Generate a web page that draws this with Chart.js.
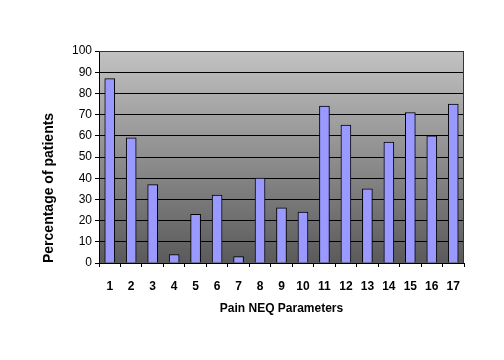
<!DOCTYPE html>
<html lang="en">
<head>
  <meta charset="UTF-8" />
  <title>Pain NEQ Parameters</title>
  <script src="https://cdn.jsdelivr.net/npm/chart.js"></script>
  <style>
    html, body { margin: 0; padding: 0; background: #fff; }
    canvas { display: block; }
  </style>
</head>
<body>
<canvas id="painChart" width="504" height="360"></canvas>
<script>
  // data
  const params = ["1", "2", "3", "4", "5", "6", "7", "8", "9", "10", "11", "12", "13", "14", "15", "16", "17"];
  const percentPatients = [87, 59, 37, 4, 23, 32, 3, 40, 26, 24, 74, 65, 35, 57, 71, 60, 75];
  const yTicks = [0, 10, 20, 30, 40, 50, 60, 70, 80, 90, 100];

  // grey gradient behind the plot + purple frame on top/right
  const plotBackground = {
    id: "plotBackground",
    beforeDraw(chart) {
      const { ctx, chartArea: a } = chart;
      const g = ctx.createLinearGradient(0, a.top, 0, a.bottom);
      g.addColorStop(0, "#c2c2c2");
      g.addColorStop(1, "#5a5a5a");
      ctx.save();
      ctx.fillStyle = g;
      ctx.fillRect(a.left, a.top, a.right - a.left, a.bottom - a.top);
      ctx.restore();
    },
    afterDraw(chart) {
      const { ctx, chartArea: a } = chart;
      ctx.save();
      ctx.strokeStyle = "#800080";
      ctx.lineWidth = 1;
      ctx.beginPath();
      ctx.moveTo(a.left, a.top + 0.5);
      ctx.lineTo(a.right - 0.5, a.top + 0.5);
      ctx.lineTo(a.right - 0.5, a.bottom);
      ctx.stroke();
      ctx.restore();
    }
  };

  Chart.defaults.font.family = "'Liberation Sans', Arial, sans-serif";
  Chart.defaults.color = "#000";

  new Chart(document.getElementById("painChart").getContext("2d"), {
    type: "bar",
    data: {
      labels: params,
      datasets: [{
        data: percentPatients,
        backgroundColor: "#9999ff",
        borderColor: "#000",
        borderWidth: 1,
        barThickness: 10
      }]
    },
    options: {
      responsive: false,
      devicePixelRatio: 1,
      animation: false,
      layout: { padding: { left: 0, top: 51, right: 40, bottom: 0 } },
      plugins: {
        legend: { display: false },
        tooltip: { enabled: false }
      },
      scales: {
        x: {
          afterFit(scale) { scale.height = 97; },
          grid: {
            offset: true,
            drawOnChartArea: false,
            tickLength: 4,
            color: "#000"
          },
          border: { color: "#000" },
          ticks: {
            padding: 12,
            maxRotation: 0,
            autoSkip: false,
            font: { size: 12, weight: "bold" }
          },
          title: {
            display: true,
            text: "Pain NEQ Parameters",
            font: { size: 12, weight: "bold" },
            padding: { top: 0, bottom: 44 }
          }
        },
        y: {
          min: 0,
          max: 100,
          afterFit(scale) { scale.width = 99; },
          afterBuildTicks(scale) { scale.ticks = yTicks.map(v => ({ value: v })); },
          grid: {
            color: ctx => (ctx.tick && ctx.tick.value === 100 ? "#800080" : "#000"),
            tickColor: "#000",
            tickLength: 4
          },
          border: { color: "#000" },
          ticks: {
            padding: 3,
            font: { size: 12 }
          },
          title: {
            display: true,
            text: "Percentage of patients",
            align: "start",
            font: { size: 14, weight: "bold" },
            padding: { top: 41, bottom: 0 }
          }
        }
      }
    },
    plugins: [plotBackground]
  });
</script>
</body>
</html>
